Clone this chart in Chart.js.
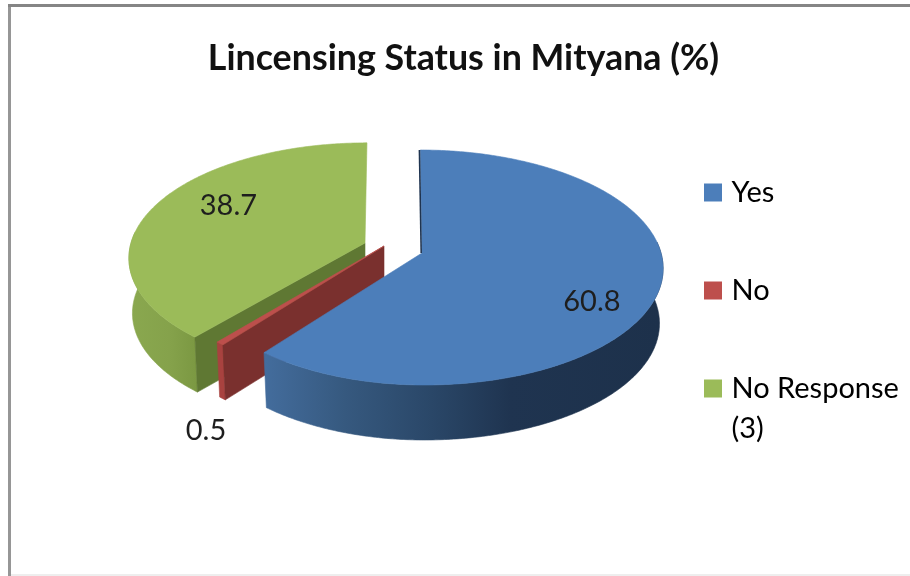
<!DOCTYPE html>
<html><head><meta charset="utf-8">
<style>html,body{margin:0;padding:0;background:#fff}#w{width:910px;height:576px;filter:blur(.7px)}canvas{display:block}</style>
<script src="https://cdn.jsdelivr.net/npm/chart.js@4/dist/chart.umd.js"></script>
</head><body><div id="w"><canvas id="c" width="910" height="576"></canvas></div>
<script>
const categories = ['Yes', 'No', ['No Response', '(3)']];
const values = [60.8, 0.5, 38.7];
const valueLabels = ['60.8', '0.5', '38.7'];
const topColors = ['#4c7eba', '#bd4f4c', '#9bbb59'];
const chartTitle = 'Lincensing Status in Mityana (%)';

// view of each exploded slice: where its tip lands and how the disc is foreshortened
const views = [
  {x:422,y:253,axL:230,axR:239,b:115.7,shear:2},
  {x:384,y:246,axL:232,axR:232,b:114.8,shear:0},
  {x:365,y:243,axL:234,axR:234,b:112.5,shear:-2.2}
];
const tilt = .1234, depth = 55, shrink = .985;
const labelRadius = [.7, 1, .7];
const labelShift = [[7,21],[-14,87],[12,-11]];

function pt(view, a, r, bottom){
  const u = Math.cos(a)*r, v = Math.sin(a)*r, w = 1 - tilt*v;
  const ax = u < 0 ? view.axL : view.axR;
  let x = view.x + (ax*u + view.shear*v)/w, y = view.y + view.b*v/w;
  if (bottom){ x = view.x + (x-view.x)*shrink; y += depth; }
  return [x,y];
}
function poly(ctx, pts, fill){
  ctx.beginPath();
  pts.forEach((p,i)=> i ? ctx.lineTo(p[0],p[1]) : ctx.moveTo(p[0],p[1]));
  ctx.closePath();
  ctx.fillStyle = fill; ctx.fill();
  ctx.strokeStyle = fill; ctx.lineWidth = .6; ctx.stroke();
}
function lin(ctx, x0, x1, stops){
  const g = ctx.createLinearGradient(x0,0,x1,0);
  stops.forEach(s=>g.addColorStop(s[0],s[1]));
  return g;
}
class Pie3D extends Chart.controllers.pie {
  draw(){
    const ctx = this.chart.ctx, arcs = this._cachedMeta.data;
    const sides = [
      lin(ctx,266,660,[[0,'#436c9c'],[.2,'#36597f'],[.42,'#2a4768'],[.62,'#1f3450'],[1,'#1d314b']]),
      '#a8423f',
      lin(ctx,129,197,[[0,'#8aa84f'],[.6,'#85a24b'],[1,'#7b9842']])
    ];
    const cuts = [null,'#7a302e','#5f7833'];
    [2,1,0].forEach(i=>{
      const el = arcs[i], view = views[i];
      const s = el.startAngle, e = el.endAngle, n = Math.max(4, Math.round((e-s)*90));
      const face = [[view.x,view.y]], upper = [], lower = [];
      for (let k=0;k<=n;k++){
        const a = s+(e-s)*k/n;
        face.push(pt(view,a,1,false));
        if (Math.sin(a) >= -.1){ upper.push(pt(view,a,1,false)); lower.unshift(pt(view,a,1,true)); }
      }
      poly(ctx, upper.concat(lower), sides[i]);
      if (cuts[i]) poly(ctx, [[view.x,view.y], pt(view,s,1,false), pt(view,s,1,true), [view.x,view.y+depth]], cuts[i]);
      poly(ctx, face, el.options.backgroundColor);
      if (i===0){
        const t = pt(view,s,1,false);
        ctx.beginPath(); ctx.moveTo(t[0]-.8,t[1]); ctx.lineTo(view.x-.8,view.y);
        ctx.strokeStyle='#1f3450'; ctx.lineWidth=1.6; ctx.stroke();
      }
    });
    ctx.save();
    ctx.font = '29px Lato'; ctx.fillStyle = '#1e1e1e'; ctx.textAlign='center'; ctx.textBaseline='middle';
    arcs.forEach((el,i)=>{
      const p = pt(views[i],(el.startAngle+el.endAngle)/2,labelRadius[i],false);
      ctx.fillText(valueLabels[i], p[0]+labelShift[i][0], p[1]+labelShift[i][1]);
    });
    ctx.restore();
  }
}
Pie3D.id = 'pie3d';
Pie3D.defaults = Chart.controllers.pie.defaults;
Chart.register(Pie3D);

const frame = {
  id:'frame',
  afterLayout(chart){
    const t = chart.titleBlock; t.left = 17; t.right = 910; t.top = 37; t.bottom = 87;
    const l = chart.legend; const h = l.bottom-l.top;
    l.left = 709 - l.options.labels.padding; l.right = 910; l.top = 174 - l.options.labels.padding + 4; l.bottom = l.top+h;
  },
  beforeDraw(chart){
    const c = chart.ctx;
    c.save();
    c.fillStyle='#fff'; c.fillRect(0,0,910,576);
    c.fillStyle='#eeeeee'; c.fillRect(8,574,902,2);
    c.fillStyle='#969696'; c.fillRect(8,4,3,572);
    c.fillStyle='#858585'; c.fillRect(8,4,902,3);
    c.restore();
  }
};
new Chart(document.getElementById('c'),{
  type:'pie3d',
  data:{labels:categories,datasets:[{data:values,backgroundColor:topColors,borderWidth:0}]},
  plugins:[frame],
  options:{
    responsive:false,animation:false,
    plugins:{
      tooltip:{enabled:false},
      title:{display:true,text:chartTitle,font:{family:'Lato',size:35.8,weight:'bold'},color:'#111',padding:0},
      legend:{position:'right',align:'start',
        labels:{font:{family:'Lato',size:29,lineHeight:1.38},color:'#2a2a2a',boxWidth:8,boxHeight:8,padding:69,
          generateLabels(chart){
            return chart.data.labels.map((t,i)=>({text:t,fillStyle:topColors[i],strokeStyle:topColors[i],lineWidth:10,index:i,hidden:false}));
          }}}
    }
  }
});
</script></body></html>
